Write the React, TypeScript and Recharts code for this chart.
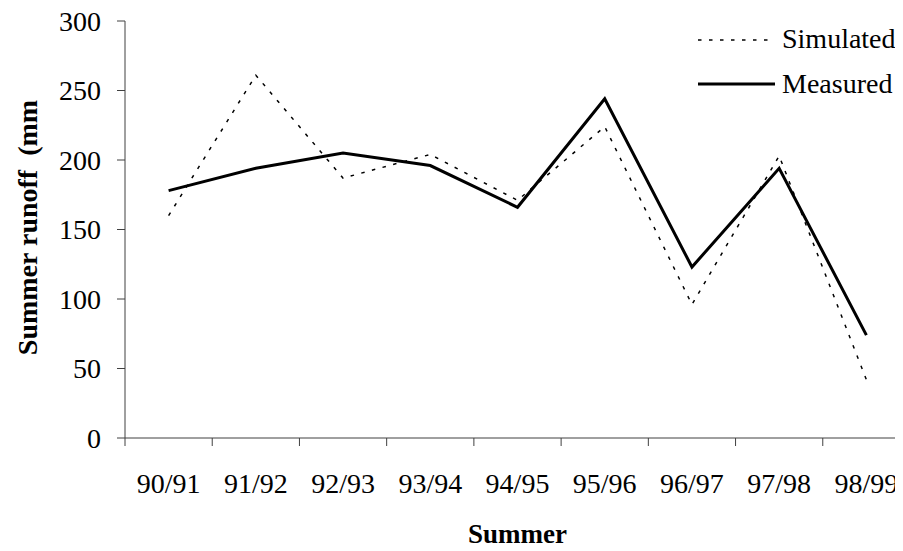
import React from 'react';
import { LineChart, Line, XAxis, YAxis, Legend } from 'recharts';

const categories = ['90/91', '91/92', '92/93', '93/94', '94/95', '95/96', '96/97', '97/98', '98/99'];
const simulated = [160, 261, 187, 204, 171, 224, 96, 203, 42];
const measured = [178, 194, 205, 196, 166, 244, 123, 194, 74];
const yTicks = [0, 50, 100, 150, 200, 250, 300];
const legendOrder = ['Simulated', 'Measured'];

const data = categories.map((c, i) => ({
  pos: i + 0.5,
  category: c,
  simulated: simulated[i],
  measured: measured[i],
}));
const labelTicks = categories.map((_, i) => i + 0.5);
const boundaryTicks = [0, ...categories.map((_, i) => i + 1)];

const FONT = '"Liberation Serif", "Times New Roman", Times, serif';
const AXIS = '#404040';
const SIM_DASH = '3.5 7.5';

const renderLegend = (props: any) => {
  const payload = [...(props.payload || [])].sort(
    (a: any, b: any) => legendOrder.indexOf(a.value) - legendOrder.indexOf(b.value)
  );
  return (
    <svg width={220} height={100} style={{ display: 'block', overflow: 'visible' }}>
      {payload.map((entry: any, i: number) => {
        const isSim = entry.value === 'Simulated';
        const ly = i === 0 ? 32 : 76;
        return (
          <g key={entry.value}>
            <line
              x1={0}
              x2={isSim ? 70 : 77}
              y1={ly}
              y2={ly}
              stroke="#000"
              strokeWidth={isSim ? 1.5 : 3}
              strokeDasharray={isSim ? SIM_DASH : undefined}
            />
            <text x={84} y={ly + 8 + (isSim ? 0 : 1)} fontFamily={FONT} fontSize={28} fill="#000">
              {entry.value}
            </text>
          </g>
        );
      })}
    </svg>
  );
};

const YLabel = (props: any) => {
  const vb = props.viewBox || { x: 0, y: 0, width: 0, height: 0 };
  const x = vb.x + 37;
  const y = vb.y + vb.height / 2 - 2;
  return (
    <text
      x={x}
      y={y}
      transform={`rotate(-90, ${x}, ${y})`}
      textAnchor="middle"
      fontFamily={FONT}
      fontWeight="bold"
      fontSize={28}
      fill="#000"
      style={{ whiteSpace: 'pre' }}
    >
      Summer runoff  (mm
    </text>
  );
};

export default function App() {
  return (
    <div
      style={{
        width: 903,
        height: 551,
        margin: '-8px 0 0 -8px',
        overflow: 'hidden',
        position: 'relative',
        fontFamily: FONT,
      }}
    >
      <LineChart
        width={925}
        height={551}
        data={data}
        margin={{ top: 21, right: 15, bottom: 0, left: 0 }}
        style={{ fontFamily: FONT }}
      >
        <XAxis
          xAxisId="bounds"
          dataKey="pos"
          type="number"
          domain={[0, categories.length]}
          ticks={boundaryTicks}
          interval={0}
          height={8}
          tickSize={8}
          tickLine={{ stroke: AXIS }}
          axisLine={{ stroke: AXIS }}
          tickFormatter={() => ''}
          allowDataOverflow
        />
        <XAxis
          xAxisId="labels"
          dataKey="pos"
          type="number"
          domain={[0, categories.length]}
          ticks={labelTicks}
          interval={0}
          height={105}
          tickSize={0}
          tickMargin={27}
          axisLine={false}
          tickLine={false}
          tick={{ fill: '#000', fontSize: 28, fontFamily: FONT }}
          tickFormatter={(v: number) => categories[Math.floor(v)]}
          label={{
            value: 'Summer',
            position: 'insideBottom',
            offset: 8,
            style: { fontFamily: FONT, fontWeight: 'bold', fontSize: 27, fill: '#000' },
          }}
        />
        <YAxis
          domain={[0, 300]}
          ticks={yTicks}
          interval={0}
          width={125}
          tickSize={8}
          tickMargin={16}
          tickLine={{ stroke: AXIS }}
          axisLine={{ stroke: AXIS }}
          tick={{ fill: '#000', fontSize: 28, fontFamily: FONT }}
          label={<YLabel />}
        />
        <Legend
          content={renderLegend}
          layout="vertical"
          align="center"
          verticalAlign="middle"
          wrapperStyle={{ position: 'absolute', left: 698, top: 8, width: 220, height: 100 }}
        />
        <Line
          xAxisId="bounds"
          name="Simulated"
          dataKey="simulated"
          type="linear"
          stroke="#000"
          strokeWidth={1.5}
          strokeDasharray={SIM_DASH}
          dot={false}
          activeDot={false}
          isAnimationActive={false}
        />
        <Line
          xAxisId="bounds"
          name="Measured"
          dataKey="measured"
          type="linear"
          stroke="#000"
          strokeWidth={3}
          dot={false}
          activeDot={false}
          isAnimationActive={false}
        />
      </LineChart>
    </div>
  );
}
